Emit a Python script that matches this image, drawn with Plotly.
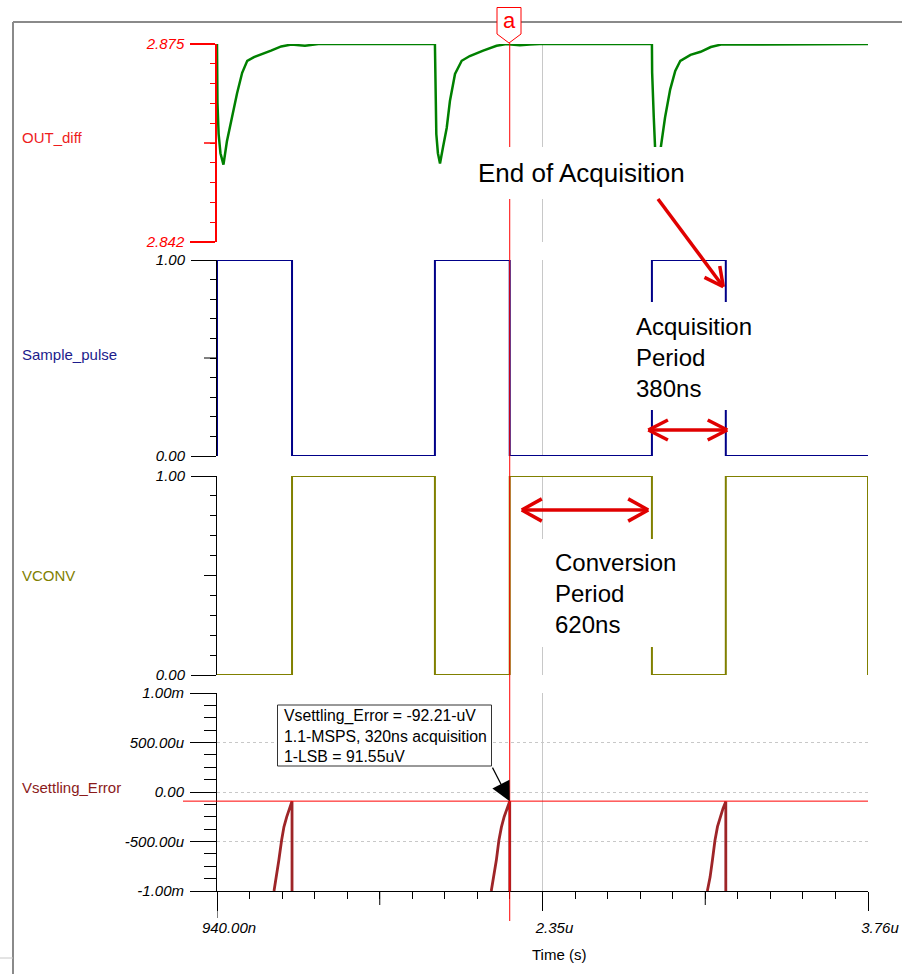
import math
import plotly.graph_objects as go

# ---------------- data (time in microseconds) ----------------
# OUT_diff : three settling dips after each acquisition start
out_t1 = [0.940, 0.942, 0.947, 0.955, 0.968, 0.983, 1.005, 1.027, 1.049, 1.071, 1.100, 1.130, 1.174, 1.218, 1.262, 1.321, 1.379]
out_v1 = [2.8750, 2.8652, 2.8600, 2.8568, 2.8549, 2.8588, 2.8628, 2.8668, 2.8702, 2.8722, 2.8728, 2.8732, 2.8739, 2.8746, 2.8749, 2.8747, 2.8750]
out_t2 = [1.884, 1.886, 1.890, 1.897, 1.906, 1.919, 1.935, 1.949, 1.971, 2.000, 2.035, 2.093, 2.151, 2.194, 2.252, 2.295, 2.338]
out_v2 = [2.8750, 2.8652, 2.8600, 2.8568, 2.8551, 2.8578, 2.8610, 2.8655, 2.8700, 2.8722, 2.8730, 2.8739, 2.8747, 2.8750, 2.8748, 2.8749, 2.8750]
out_t3 = [2.824, 2.825, 2.832, 2.838, 2.846, 2.861, 2.881, 2.903, 2.925, 2.947, 2.991, 3.035, 3.079, 3.123, 3.182, 3.226, 3.256, 3.760]
out_v3 = [2.8750, 2.8702, 2.8628, 2.8574, 2.8556, 2.8574, 2.8628, 2.8674, 2.8705, 2.8722, 2.8732, 2.8737, 2.8745, 2.8749, 2.8749, 2.8749, 2.8750, 2.8750]

# Sample_pulse and VCONV (step waveforms, edge times)
pulse_t = [0.94, 0.94, 1.265, 1.884, 2.208, 2.824, 3.144, 3.76]
pulse_v = [0, 1, 0, 1, 0, 1, 0, 0]
vconv_t = [0.94, 1.265, 1.884, 2.208, 2.824, 3.144, 3.76]
vconv_v = [0, 1, 0, 1, 0, 1, 0]

# Vsettling_Error (V), visible part near end of each acquisition
se_t1 = [1.187, 1.198, 1.208, 1.220, 1.230, 1.242, 1.253, 1.265, 1.265]
se_v1 = [-1.000e-3, -0.854e-3, -0.686e-3, -0.485e-3, -0.352e-3, -0.251e-3, -0.167e-3, -0.0922e-3, -1.000e-3]
se_t2 = [2.128, 2.140, 2.150, 2.161, 2.172, 2.184, 2.196, 2.208, 2.208]
se_v2 = [-1.000e-3, -0.850e-3, -0.690e-3, -0.490e-3, -0.355e-3, -0.250e-3, -0.165e-3, -0.09221e-3, -1.000e-3]
se_t3 = [3.064, 3.076, 3.086, 3.097, 3.108, 3.120, 3.132, 3.144, 3.144]
se_v3 = [-1.000e-3, -0.860e-3, -0.690e-3, -0.490e-3, -0.350e-3, -0.250e-3, -0.165e-3, -0.095e-3, -1.000e-3]

cursor_t = 2.208
cursor_v = -92.21e-6

x_tickvals = [0.94, 2.35, 3.76]
x_ticktext = ["940.00n", "2.35u", "3.76u"]
x_midticks = [1.645, 3.055]
y1_tickvals = [2.842, 2.875]
y1_ticktext = ["2.842", "2.875"]
y01_tickvals = [0, 1]
y01_ticktext = ["0.00", "1.00"]
y4_tickvals = [-1e-3, -0.5e-3, 0, 0.5e-3, 1e-3]
y4_ticktext = ["-1.00m", "-500.00u", "0.00", "500.00u", "1.00m"]

# minor tick positions (axis decoration)
x_minor = [0.94 + 0.141 * k for k in range(1, 20) if k % 10 != 0]
y1_minor = [2.842 + 0.0033 * k for k in range(1, 10)]
y01_minor = [0.1 * k for k in range(1, 10)]
y4_minor = [-1e-3 + 0.125e-3 * k for k in range(1, 16) if k % 4 != 0]

# ---------------- layout helpers ----------------
W, H = 902, 974
L, R, T, B = 217, 868, 44, 891
PW, PH = R - L, B - T


def PX(x):
    return (x - L) / PW


def PY(y):
    return (B - y) / PH


FONT = "Arial, Liberation Sans, sans-serif"
GRID = "#c8c8c8"
RED = "#ff0000"
ARROW_RED = "#e00000"

green = "#008000"
navy = "#000088"
olive = "#808000"
darkred = "#9e2528"

fig = go.Figure()


def join(*pairs):
    xs, ys = [], []
    for t, v in pairs:
        if xs:
            xs.append(None)
            ys.append(None)
        xs += t
        ys += v
    return xs, ys


ox = out_t1 + out_t2 + out_t3
oy = out_v1 + out_v2 + out_v3
fig.add_trace(go.Scatter(x=ox, y=oy, mode="lines", line=dict(color=green, width=2.5),
                         xaxis="x", yaxis="y", cliponaxis=False))
fig.add_trace(go.Scatter(x=pulse_t, y=pulse_v, mode="lines", line=dict(color=navy, width=2, shape="hv"),
                         xaxis="x2", yaxis="y2", cliponaxis=False))
fig.add_trace(go.Scatter(x=vconv_t, y=vconv_v, mode="lines", line=dict(color=olive, width=2, shape="hv"),
                         xaxis="x3", yaxis="y3", cliponaxis=False))
sx, sy = join((se_t1, se_v1), (se_t2, se_v2), (se_t3, se_v3))
fig.add_trace(go.Scatter(x=sx, y=sy, mode="lines", line=dict(color=darkred, width=2.8),
                         xaxis="x4", yaxis="y4", cliponaxis=False, connectgaps=False))

domains = [
    [PY(242), PY(44)],
    [PY(456), PY(260)],
    [PY(675), PY(476)],
    [0, PY(693)],
]

tickfont_black = dict(family=FONT, size=15, color="black", style="italic")

layout = dict(
    width=W, height=H, autosize=False,
    margin=dict(l=L, r=W - R, t=T, b=H - B, pad=0),
    paper_bgcolor="white", plot_bgcolor="white",
    showlegend=False,
    font=dict(family=FONT),
)

for i in range(1, 5):
    xa = dict(domain=[0, 1], range=[0.94, 3.76], anchor=f"y{i}" if i > 1 else "y",
              tickmode="array", tickvals=x_tickvals, showgrid=True, gridcolor=GRID, gridwidth=1,
              zeroline=False, layer="below traces", fixedrange=True, automargin=False)
    if i > 1:
        xa["matches"] = "x"
    if i < 4:
        xa.update(showticklabels=False, ticks="", showline=False)
    else:
        xa.update(ticktext=x_ticktext, showticklabels=True, ticks="outside", ticklen=19, tickwidth=1,
                  tickcolor="black", showline=True, linecolor="black", linewidth=1,
                  tickfont=tickfont_black, ticklabelshift=12, ticklabelstandoff=4,
                  minor=dict(ticks="outside", ticklen=7, tickwidth=1, tickcolor="black",
                             tickmode="array", tickvals=x_minor, showgrid=False))
    layout["xaxis" if i == 1 else f"xaxis{i}"] = xa

ya1 = dict(domain=domains[0], range=[2.842, 2.875], anchor="x", tickmode="array",
           tickvals=y1_tickvals, ticktext=y1_ticktext, ticks="outside", ticklen=25, tickwidth=1.5,
           tickcolor=RED, showline=True, linecolor=RED, linewidth=1.5, showgrid=True, gridcolor=GRID,
           zeroline=False, tickfont=dict(family=FONT, size=15, color=RED, style="italic"),
           minor=dict(ticks="outside", ticklen=5, tickwidth=1, tickcolor=RED, tickmode="array",
                      tickvals=y1_minor, showgrid=False),
           layer="below traces", fixedrange=True, ticklabelstandoff=3, automargin=False)
layout["yaxis"] = ya1
for i in (2, 3):
    layout[f"yaxis{i}"] = dict(domain=domains[i - 1], range=[0, 1], anchor=f"x{i}", tickmode="array",
                               tickvals=y01_tickvals, ticktext=y01_ticktext, ticks="outside", ticklen=25,
                               tickwidth=1, tickcolor="black", showline=True, linecolor="black", linewidth=1,
                               showgrid=True, gridcolor=GRID, zeroline=False, tickfont=tickfont_black,
                               minor=dict(ticks="outside", ticklen=6, tickwidth=1, tickcolor="black",
                                          tickmode="array", tickvals=y01_minor, showgrid=False),
                               layer="below traces", fixedrange=True, ticklabelstandoff=3,
                               automargin=False)
layout["yaxis4"] = dict(domain=domains[3], range=[-1e-3, 1e-3], anchor="x4", tickmode="array",
                        tickvals=y4_tickvals, ticktext=y4_ticktext, ticks="outside", ticklen=26,
                        tickwidth=1, tickcolor="black", showline=True, linecolor="black", linewidth=1,
                        showgrid=True, gridcolor=GRID, griddash="dot", zeroline=False, tickfont=tickfont_black,
                        minor=dict(ticks="outside", ticklen=12, tickwidth=1, tickcolor="black",
                                   tickmode="array", tickvals=y4_minor, showgrid=False),
                        layer="below traces", fixedrange=True, ticklabelstandoff=3, automargin=False)

shapes = []


def pline(x0, y0, x1, y1, color, width, dash=None):
    d = dict(type="line", xref="paper", yref="paper", x0=PX(x0), y0=PY(y0), x1=PX(x1), y1=PY(y1),
             line=dict(color=color, width=width), layer="above")
    if dash:
        d["line"]["dash"] = dash
    return d


# outer frame
shapes.append(pline(13, 22, 905, 22, "#8a8a8a", 2))
shapes.append(pline(13, 22, 13, 980, "#8a8a8a", 2))
shapes.append(pline(-2, 958, 13, 958, "#c8c8c8", 1))

# longer middle ticks on panels 1-3
for i, col, w in [(1, RED, 1.5), (2, "black", 1), (3, "black", 1)]:
    xr = "x domain" if i == 1 else f"x{i} domain"
    yr = "y domain" if i == 1 else f"y{i} domain"
    shapes.append(dict(type="line", xref=xr, yref=yr, x0=-13 / PW, x1=0, y0=0.5, y1=0.5,
                       line=dict(color=col, width=w), layer="below"))
# longer mid ticks on the time axis
for xm in x_midticks:
    shapes.append(dict(type="line", xref="x4", yref="y4 domain", x0=xm, x1=xm, y0=0, y1=-14 / 198,
                       line=dict(color="black", width=1), layer="below"))
shapes.append(dict(type="line", xref="x4", yref="y4 domain", x0=0.94, x1=0.94, y0=0, y1=-27 / 198,
                   line=dict(color="black", width=1), layer="below"))

# rising edge of the first sampling pulse drawn over the axis line
shapes.append(dict(type="line", xref="x2", yref="y2", x0=pulse_t[0], x1=pulse_t[1], y0=pulse_v[0], y1=pulse_v[1],
                   line=dict(color=navy, width=2), layer="above"))

# cursor
shapes.append(dict(type="line", xref="x4", yref="paper", x0=cursor_t, x1=cursor_t, y0=PY(921), y1=PY(43),
                   line=dict(color=RED, width=1), layer="above"))
shapes.append(dict(type="line", xref="paper", yref="y4", x0=PX(183), x1=1, y0=cursor_v, y1=cursor_v,
                   line=dict(color=RED, width=1), layer="above"))


def prect(x0, y0, x1, y1, border=None):
    d = dict(type="rect", xref="paper", yref="paper", x0=PX(x0), y0=PY(y1), x1=PX(x1), y1=PY(y0),
             fillcolor="white", line=dict(width=0), layer="above")
    if border:
        d["line"] = dict(color=border, width=1)
    return d


shapes.append(prect(468, 147, 700, 199))
shapes.append(prect(628, 302, 762, 410))
shapes.append(prect(538, 539, 682, 647))
# callout box
shapes.append(prect(277.5, 705, 491.5, 766, border="#333333"))


def arrow_head(tipx, tipy, fromx, fromy, length=21, ang=27):
    dx, dy = fromx - tipx, fromy - tipy
    n = math.hypot(dx, dy)
    ux, uy = dx / n, dy / n
    out = []
    for s in (1, -1):
        a = math.radians(ang) * s
        rx = ux * math.cos(a) - uy * math.sin(a)
        ry = ux * math.sin(a) + uy * math.cos(a)
        out.append(pline(tipx, tipy, tipx + rx * length, tipy + ry * length, ARROW_RED, 3.5))
    return out


# End of Acquisition arrow
shapes.append(pline(658, 199, 722, 285, ARROW_RED, 3.5))
shapes += arrow_head(723.3, 286.7, 658, 199)
# Acquisition period double arrow
shapes.append(pline(649, 430, 727, 430, ARROW_RED, 3.5))
shapes += arrow_head(648.3, 430, 727, 430, 22, 27)
shapes += arrow_head(727.3, 430, 648, 430, 22, 27)
# Conversion period double arrow
shapes.append(pline(522, 510, 648, 510, ARROW_RED, 3.5))
shapes += arrow_head(521.7, 510, 648, 510, 23, 29)
shapes += arrow_head(648.3, 510, 522, 510, 23, 29)

# cursor flag "a"
shapes.append(dict(type="path", xref="paper", yref="paper",
                   path=f"M{PX(497)},{PY(7.5)} L{PX(521)},{PY(7.5)} L{PX(521)},{PY(34)} "
                        f"L{PX(509)},{PY(43)} L{PX(497)},{PY(34)} Z",
                   fillcolor="white", line=dict(color=RED, width=1), layer="above"))

layout["shapes"] = shapes

ann = []


def ptext(text, x, y, color, size, xanchor="left", yanchor="middle", **kw):
    d = dict(text=text, xref="paper", yref="paper", x=PX(x), y=PY(y), xanchor=xanchor, yanchor=yanchor,
             showarrow=False, font=dict(family=FONT, size=size, color=color), align="left")
    d.update(kw)
    return d


ann.append(ptext("OUT_diff", 20, 137, "#ee1c1c", 15))
ann.append(ptext("Sample_pulse", 20, 354, "#1c1c8c", 15))
ann.append(ptext("VCONV", 20, 575, olive, 15))
ann.append(ptext("Vsettling_Error", 20, 787, "#8b1a1a", 15))
ann.append(ptext("Time (s)", 559, 954, "black", 15, xanchor="center"))
ann.append(ptext("End of Acquisition", 476, 173, "black", 26))
ann.append(ptext("Acquisition<br>Period<br>380ns", 634, 357, "black", 24))
ann.append(ptext("Conversion<br>Period<br>620ns", 553, 593, "black", 24))
ann.append(ptext("a", 509, 21, RED, 22, xanchor="center"))
ann.append(ptext("Vsettling_Error = -92.21-uV<br>1.1-MSPS, 320ns acquisition<br>1-LSB = 91.55uV",
                 283, 735.5, "black", 15.8, borderpad=0))
ann.append(dict(text="", xref="x4", yref="y4", x=cursor_t, y=cursor_v, showarrow=True, ax=-18, ay=-35,
                arrowhead=2, arrowsize=3.2, arrowwidth=1.2, arrowcolor="black", standoff=0))
layout["annotations"] = ann

fig.update_layout(**layout)
fig.write_html("out.html",
               config={"displayModeBar": False, "responsive": False},
               post_script="document.body.style.margin='0';document.body.style.overflow='hidden';")
